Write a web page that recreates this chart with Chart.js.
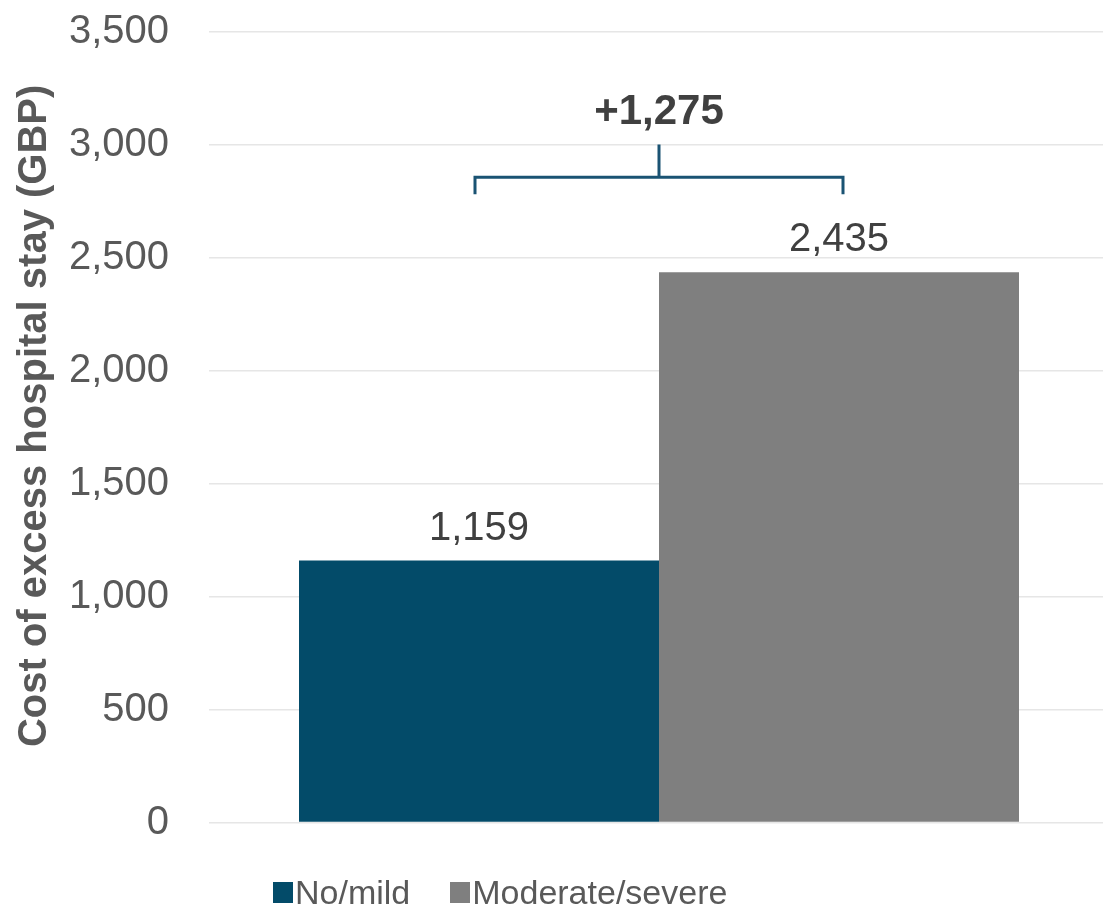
<!DOCTYPE html>
<html>
<head>
<meta charset="utf-8">
<script src="https://cdn.jsdelivr.net/npm/chart.js@4/dist/chart.umd.min.js"></script>
<style>
  html, body { margin: 0; padding: 0; background: #fff; overflow: hidden; width: 1103px; height: 918px; }
  #wrap { position: absolute; left: 0; top: 0; width: 1109px; height: 918px; }
  #legend { position: absolute; left: 273px; top: 872px; height: 40px; display: flex; align-items: center;
            font-family: "Liberation Sans", Arial, sans-serif; font-size: 34px; color: #595959; }
  .item { display: flex; align-items: center; margin-right: 40px; }
  .box { width: 20px; height: 21px; margin-right: 2px; }
</style>
</head>
<body>
<div id="wrap"><canvas id="c" width="1109" height="918"></canvas></div>
<div id="legend"></div>
<script>
// ---- data ----
const categories = ["Cost"];
const seriesNames = ["No/mild", "Moderate/severe"];
const noMild = [1159];
const moderateSevere = [2435];
const seriesColors = ["#034B69", "#7F7F7F"];
const yTicks = [0, 500, 1000, 1500, 2000, 2500, 3000, 3500];
const diffLabel = "+1,275";
const yTitle = "Cost of excess hospital stay (GBP)";

const fmt = v => v.toLocaleString("en-US");

const valueLabels = {
  id: "valueLabels",
  afterDatasetsDraw(chart) {
    const ctx = chart.ctx;
    ctx.save();
    ctx.font = "40px 'Liberation Sans', Arial, sans-serif";
    ctx.fillStyle = "#404040";
    ctx.textAlign = "center";
    ctx.textBaseline = "bottom";
    chart.data.datasets.forEach((ds, i) => {
      chart.getDatasetMeta(i).data.forEach((bar, j) => {
        ctx.fillText(fmt(ds.data[j]), bar.x, bar.y - 12);
      });
    });
    ctx.restore();
  }
};

const bracket = {
  id: "bracket",
  afterDatasetsDraw(chart, args, opts) {
    const ctx = chart.ctx;
    const y = chart.scales.y;
    const x1 = chart.getDatasetMeta(0).data[0].x - 4;
    const x2 = chart.getDatasetMeta(1).data[0].x + 4;
    const xm = (x1 + x2) / 2;
    const yTop = y.getPixelForValue(opts.stemTop);
    const yBar = y.getPixelForValue(opts.barLevel);
    const yEnd = y.getPixelForValue(opts.endLevel);
    ctx.save();
    ctx.strokeStyle = "#1A5373";
    ctx.lineWidth = 3;
    ctx.beginPath();
    ctx.moveTo(x1, yEnd); ctx.lineTo(x1, yBar); ctx.lineTo(x2, yBar); ctx.lineTo(x2, yEnd);
    ctx.moveTo(xm, yBar); ctx.lineTo(xm, yTop);
    ctx.stroke();
    ctx.font = "bold 42px 'Liberation Sans', Arial, sans-serif";
    ctx.fillStyle = "#404040";
    ctx.textAlign = "center";
    ctx.textBaseline = "middle";
    ctx.fillText(opts.text, xm, y.getPixelForValue(opts.labelLevel));
    ctx.restore();
  }
};

new Chart(document.getElementById("c"), {
  type: "bar",
  data: {
    labels: categories,
    datasets: [
      { label: seriesNames[0], data: noMild, backgroundColor: seriesColors[0] },
      { label: seriesNames[1], data: moderateSevere, backgroundColor: seriesColors[1] }
    ]
  },
  options: {
    responsive: false,
    animation: false,
    devicePixelRatio: 1,
    categoryPercentage: 0.8,
    barPercentage: 1.0,
    layout: { padding: { top: 31.5, bottom: 95.5, left: 0, right: 0 } },
    plugins: {
      legend: { display: false },
      tooltip: { enabled: false },
      bracket: { stemTop: 3000, barLevel: 2855, endLevel: 2780, labelLevel: 3140, text: diffLabel }
    },
    scales: {
      x: { display: false },
      y: {
        min: 0, max: 3500,
        afterBuildTicks: s => { s.ticks = yTicks.map(v => ({ value: v })); },
        afterFit: s => { s.width = 209; s.paddingTop = 0; s.paddingBottom = 0; },
        border: { display: false },
        grid: { color: "#E6E6E6", lineWidth: 1.5, drawTicks: false },
        ticks: {
          padding: 40,
          color: "#595959",
          font: { family: "'Liberation Sans', Arial, sans-serif", size: 40 },
          callback: v => fmt(v)
        },
        title: {
          display: true,
          text: "  " + yTitle,
          color: "#595959",
          padding: { top: 11, bottom: 0 },
          font: { family: "'Liberation Sans', Arial, sans-serif", size: 40, weight: "bold" }
        }
      }
    }
  },
  plugins: [valueLabels, bracket]
});

// legend
const lg = document.getElementById("legend");
seriesNames.forEach((n, i) => {
  const it = document.createElement("div"); it.className = "item";
  const b = document.createElement("div"); b.className = "box"; b.style.background = seriesColors[i];
  const t = document.createElement("span"); t.textContent = n;
  it.appendChild(b); it.appendChild(t); lg.appendChild(it);
});
</script>
</body>
</html>
